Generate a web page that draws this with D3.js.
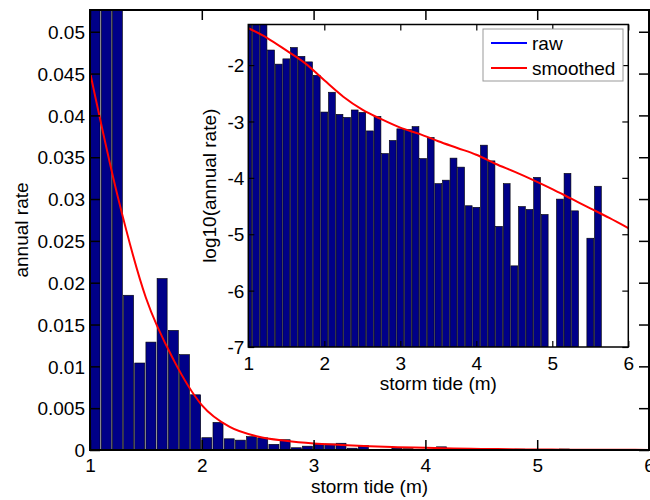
<!DOCTYPE html>
<html><head><meta charset="utf-8">
<script src="https://cdn.jsdelivr.net/npm/d3@7/dist/d3.min.js"></script>
<style>
html,body{margin:0;padding:0;background:#fff;}
svg{display:block;font-family:"Liberation Sans",Arial,sans-serif;}
</style></head>
<body><svg id="chart" width="650" height="500"></svg>
<script>
// ---- data ----
// lower edges of 0.1 m storm-tide bins
const binEdges = d3.range(50).map(i => +(1.0 + 0.1 * i).toFixed(1));
// annual rate per bin (first three bins exceed the plotted range)
const rawRate = [
  0.085, 0.068, 0.056, 0.0185, 0.0104, 0.0129, 0.0205, 0.0143, 0.0114, 0.0066,
  0.00147, 0.0033, 0.00134, 0.00118, 0.0016, 0.00145, 0.00068, 0.00123, 0.00027, 0.00046,
  0.00074, 0.00072, 0.00081, 0.00022, 0.00052, 0.000079, 0.000091, 0.000224, 0.000155, 0.000032,
  0.000030, 0.00038, 0.00020, 0.0000138, 0.000079, 0.00000275, 0.000031, 0.0000275, 0.000102, 0.0000224,
  0, 0.000042, 0.00012, 0.000026, 0, 0.0000085, 0.000071, 0, 0, 0
];
// smoothed curve, log10(annual rate)
const smoothX = [1.0,1.25,1.5,1.75,2.0,2.25,2.5,2.75,3.0,3.25,3.5,3.75,4.0,4.25,4.5,4.75,5.0,5.25,5.5,5.75,6.0];
const smoothLog = [-1.345,-1.52,-1.74,-1.97,-2.27,-2.56,-2.79,-2.96,-3.11,-3.22,-3.35,-3.47,-3.59,-3.75,-3.89,-4.04,-4.20,-4.37,-4.54,-4.71,-4.89];
const mainYTicks = [0,0.005,0.01,0.015,0.02,0.025,0.03,0.035,0.04,0.045,0.05];
const mainYLabels = ["0","0.005","0.01","0.015","0.02","0.025","0.03","0.035","0.04","0.045","0.05"];
const xTicks = [1,2,3,4,5,6];
const insetYTicks = [-7,-6,-5,-4,-3,-2];
const legendLabels = ["raw","smoothed"];
const legendColors = ["#0000ff","#ff0000"];

const barFill = "#000088", red = "#ff0000";
const svg = d3.select("#chart");
const FS = 19;

// ---- main axes ----
const M = {l:90, r:649, t:10, b:450};
const x = d3.scaleLinear().domain([1,6]).range([M.l, M.r]);
const y = d3.scaleLinear().domain([0,0.0526]).range([M.b, M.t]);

const defs = svg.append("defs");
defs.append("clipPath").attr("id","clipMain").append("rect")
  .attr("x",M.l).attr("y",M.t).attr("width",M.r-M.l).attr("height",M.b-M.t);

const gMain = svg.append("g").attr("clip-path","url(#clipMain)");
gMain.selectAll("rect.bar").data(rawRate.map((v,i)=>({e:binEdges[i], v})).filter(d=>d.v>0))
  .join("rect").attr("class","bar")
  .attr("x", d => x(d.e))
  .attr("width", d => x(d.e+0.09)-x(d.e))
  .attr("y", d => y(d.v))
  .attr("height", d => y(0)-y(d.v))
  .attr("fill", barFill).attr("stroke","#000").attr("stroke-width",0.6);

const lineMain = d3.line().x(d=>x(d[0])).y(d=>y(Math.pow(10,d[1]))).curve(d3.curveMonotoneX);
gMain.append("path").datum(smoothX.map((v,i)=>[v, smoothLog[i]]))
  .attr("d", lineMain).attr("fill","none").attr("stroke",red).attr("stroke-width",2);

// main axes box & ticks
const axMain = svg.append("g");
axMain.append("rect").attr("x",M.l).attr("y",M.t).attr("width",M.r-M.l).attr("height",M.b-M.t)
  .attr("fill","none").attr("stroke","#000").attr("stroke-width",2);
const gxb = axMain.append("g").attr("transform",`translate(0,${M.b})`)
  .call(d3.axisBottom(x).tickValues(xTicks).tickSizeInner(-10).tickSizeOuter(0).tickPadding(8).tickFormat(d3.format("d")));
const gxt = axMain.append("g").attr("transform",`translate(0,${M.t})`)
  .call(d3.axisTop(x).tickValues(xTicks).tickSizeInner(-10).tickSizeOuter(0).tickFormat(""));
const gyl = axMain.append("g").attr("transform",`translate(${M.l},0)`)
  .call(d3.axisLeft(y).tickValues(mainYTicks).tickSizeInner(-10).tickSizeOuter(0).tickPadding(5).tickFormat((d,i)=>mainYLabels[i]));
const gyr = axMain.append("g").attr("transform",`translate(${M.r},0)`)
  .call(d3.axisRight(y).tickValues(mainYTicks).tickSizeInner(-10).tickSizeOuter(0).tickFormat(""));
[gxb,gxt,gyl,gyr].forEach(g=>{
  g.select(".domain").remove();
  g.selectAll(".tick line").attr("stroke","#000").attr("stroke-width",1.5);
  g.selectAll("text").attr("font-size",FS).attr("fill","#000").attr("font-family","Liberation Sans, Arial, sans-serif");
});
gyl.selectAll("text").attr("dy","0.35em");
gxb.selectAll("text").attr("dy","0.72em");

svg.append("text").attr("x",(M.l+M.r)/2).attr("y",493).attr("text-anchor","middle")
  .attr("font-size",FS).text("storm tide (m)");
svg.append("text").attr("transform",`translate(28,${(M.t+M.b)/2}) rotate(-90)`).attr("text-anchor","middle")
  .attr("font-size",FS).text("annual rate");

// ---- inset axes ----
const I = {l:248.3, r:628.3, t:24.5, b:347};
const xi = d3.scaleLinear().domain([1,6]).range([I.l, I.r]);
const yi = d3.scaleLinear().domain([-7,-1.28]).range([I.b, I.t]);
svg.append("rect").attr("x",I.l).attr("y",I.t).attr("width",I.r-I.l).attr("height",I.b-I.t).attr("fill","#fff");
defs.append("clipPath").attr("id","clipIn").append("rect")
  .attr("x",I.l).attr("y",I.t).attr("width",I.r-I.l).attr("height",I.b-I.t);
const gIn = svg.append("g").attr("clip-path","url(#clipIn)");
gIn.selectAll("rect.bar").data(rawRate.map((v,i)=>({e:binEdges[i], v})).filter(d=>d.v>0))
  .join("rect").attr("class","bar")
  .attr("x", d => xi(d.e-0.045))
  .attr("width", d => xi(d.e+0.045)-xi(d.e-0.045))
  .attr("y", d => yi(Math.log10(d.v)))
  .attr("height", d => yi(-7)-yi(Math.log10(d.v)))
  .attr("fill", barFill).attr("stroke","#000").attr("stroke-width",0.6);
const lineIn = d3.line().x(d=>xi(d[0])).y(d=>yi(d[1])).curve(d3.curveMonotoneX);
gIn.append("path").datum(smoothX.map((v,i)=>[v, smoothLog[i]]))
  .attr("d", lineIn).attr("fill","none").attr("stroke",red).attr("stroke-width",2);

const axIn = svg.append("g");
axIn.append("rect").attr("x",I.l).attr("y",I.t).attr("width",I.r-I.l).attr("height",I.b-I.t)
  .attr("fill","none").attr("stroke","#000").attr("stroke-width",1.5);
const ixb = axIn.append("g").attr("transform",`translate(0,${I.b})`)
  .call(d3.axisBottom(xi).tickValues(xTicks).tickSizeInner(-6).tickSizeOuter(0).tickPadding(9).tickFormat(d3.format("d")));
const ixt = axIn.append("g").attr("transform",`translate(0,${I.t})`)
  .call(d3.axisTop(xi).tickValues(xTicks).tickSizeInner(-6).tickSizeOuter(0).tickFormat(""));
const iyl = axIn.append("g").attr("transform",`translate(${I.l},0)`)
  .call(d3.axisLeft(yi).tickValues(insetYTicks).tickSizeInner(-6).tickSizeOuter(0).tickPadding(4).tickFormat(d3.format("d")));
const iyr = axIn.append("g").attr("transform",`translate(${I.r},0)`)
  .call(d3.axisRight(yi).tickValues(insetYTicks).tickSizeInner(-6).tickSizeOuter(0).tickFormat(""));
[ixb,ixt,iyl,iyr].forEach(g=>{
  g.select(".domain").remove();
  g.selectAll(".tick line").attr("stroke","#000").attr("stroke-width",1.2);
  g.selectAll("text").attr("font-size",FS).attr("fill","#000").attr("font-family","Liberation Sans, Arial, sans-serif");
});
iyl.selectAll("text").attr("dy","0.35em").text(d => "-" + Math.abs(d));
ixb.selectAll("text").attr("dy","0.72em");

svg.append("text").attr("x",(I.l+I.r)/2).attr("y",390).attr("text-anchor","middle")
  .attr("font-size",FS).text("storm tide (m)");
svg.append("text").attr("transform",`translate(216,${(I.t+I.b)/2}) rotate(-90)`).attr("text-anchor","middle")
  .attr("font-size",FS).text("log10(annual rate)");

// legend
const lg = svg.append("g");
lg.append("rect").attr("x",483).attr("y",29).attr("width",140).attr("height",52)
  .attr("fill","#fff").attr("stroke","#999").attr("stroke-width",1);
legendLabels.forEach((t,i)=>{
  const yy = 43 + i*25;
  lg.append("line").attr("x1",491).attr("x2",527).attr("y1",yy).attr("y2",yy)
    .attr("stroke",legendColors[i]).attr("stroke-width",2);
  lg.append("text").attr("x",532).attr("y",yy).attr("dy","0.35em").attr("font-size",FS).text(t);
});
</script></body></html>
